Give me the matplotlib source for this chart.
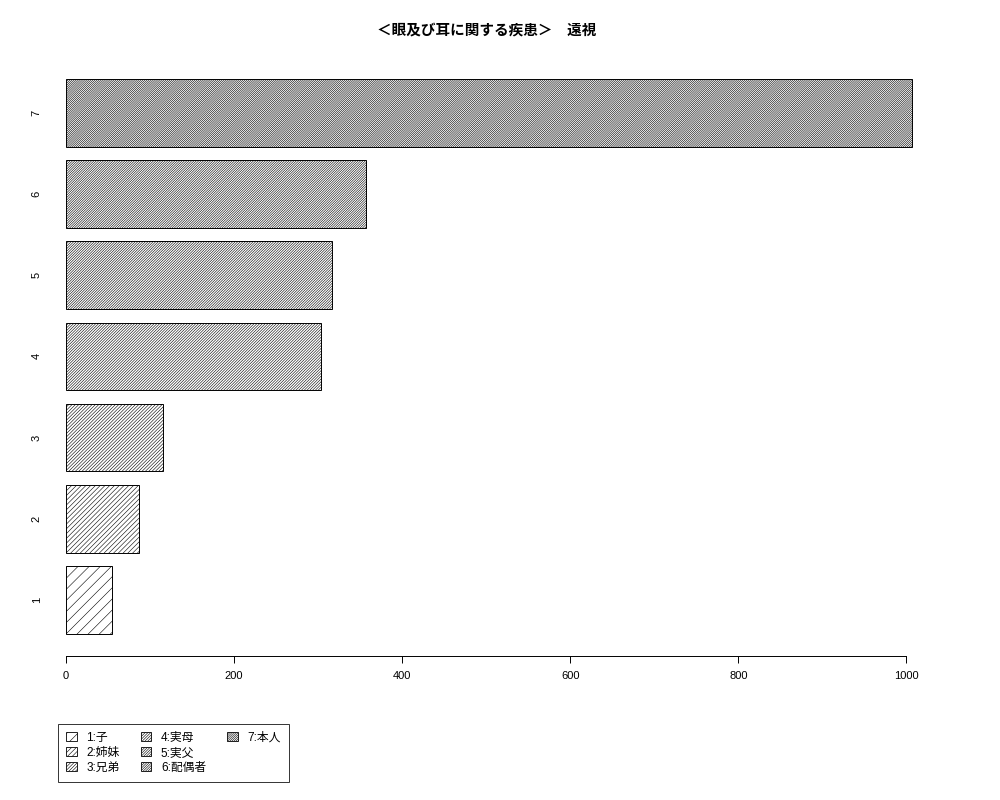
import numpy as np
import matplotlib.pyplot as plt
from matplotlib.patches import Patch

plt.rcParams['font.family'] = ['Liberation Sans', 'Noto Sans CJK JP']
plt.rcParams['hatch.linewidth'] = 0.4

# データ
cats = ['1', '2', '3', '4', '5', '6', '7']
vals = [55, 87, 116, 304, 317, 357, 1007]
names = ['1:子', '2:姉妹', '3:兄弟', '4:実母', '5:実父', '6:配偶者', '7:本人']
hatches = ['/' * 3, '/' * 7, '/' * 10, '/' * 12, '/' * 13, '/' * 14, '/' * 16]
xticks = [0, 200, 400, 600, 800, 1000]

fig = plt.figure(figsize=(10, 8), dpi=100)
ax = fig.add_axes([0.032, 0.18, 0.914, 0.749])

# Rのbarplotと同じ並び (幅1, 間隔0.2)
y = 0.7 + 1.2 * np.arange(len(vals))
bars = ax.barh(y, vals, height=1.0, color='white', edgecolor='black',
               linewidth=0.7)
for b, h in zip(bars, hatches):
    b.set_hatch(h)

ax.set_ylim(-0.128, 8.728)
ax.set_xlim(-40, 1047)
ax.set_yticks(y)
ax.set_yticklabels(cats, rotation=90, va='center', fontsize=8)
ax.tick_params(axis='y', length=0, pad=-7)
ax.set_xticks(xticks)
ax.tick_params(axis='x', labelsize=8, length=5, width=0.7, pad=6)
for s in ['top', 'right', 'left']:
    ax.spines[s].set_visible(False)
ax.spines['bottom'].set_bounds(0, 1000)
ax.spines['bottom'].set_linewidth(0.7)
ax.spines['bottom'].set_position(('data', -0.128))

fig.text(0.487, 0.962, '＜眼及び耳に関する疾患＞　遠視', ha='center',
         va='center', fontsize=10.5, fontweight='bold')

handles = [Patch(facecolor='white', edgecolor='black', hatch=h, linewidth=0.6)
           for h in hatches]
labels = list(names)
# 3列目は1項目だけなので空の項目で埋める
for _ in range(2):
    handles.append(Patch(visible=False))
    labels.append('')
leg = fig.legend(handles, labels, loc='lower left',
                 bbox_to_anchor=(0.058, 0.0225), borderaxespad=0, ncol=3,
                 fontsize=8.5, handlelength=0.9, handleheight=0.8,
                 handletextpad=0.8, columnspacing=1.8, labelspacing=0.25,
                 borderpad=0.7, fancybox=False, edgecolor='black')
leg.get_frame().set_linewidth(0.7)

fig.savefig('out.png', dpi=100)
